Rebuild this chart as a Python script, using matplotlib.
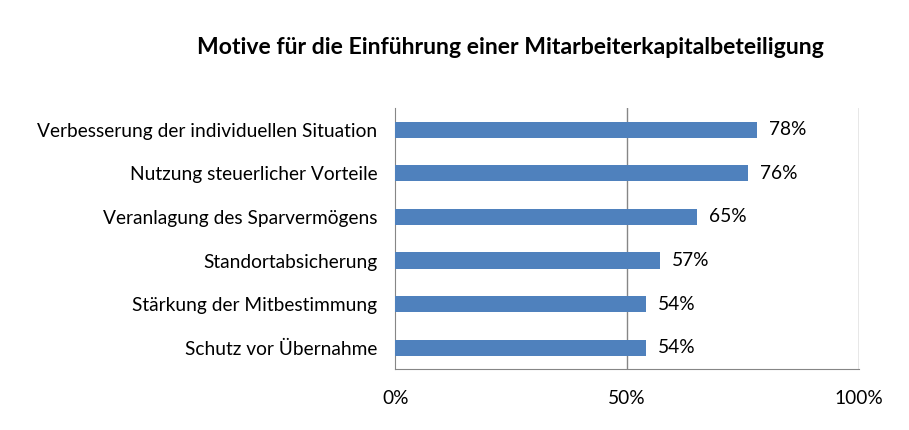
import matplotlib
matplotlib.use("Agg")
import matplotlib.pyplot as plt

# Chart data
categories = [
    "Verbesserung der individuellen Situation",
    "Nutzung steuerlicher Vorteile",
    "Veranlagung des Sparvermögens",
    "Standortabsicherung",
    "Stärkung der Mitbestimmung",
    "Schutz vor Übernahme",
]
values = [78, 76, 65, 57, 54, 54]
x_ticks = [0, 50, 100]
x_tick_labels = ["0%", "50%", "100%"]
title = "Motive für die Einführung einer Mitarbeiterkapitalbeteiligung"

plt.rcParams['font.family'] = ['Lato', 'DejaVu Sans']

fig = plt.figure(figsize=(9.09, 4.30), dpi=100)
ax = fig.add_axes([0.435, 0.1407, 0.51, 0.6083])

bar_color = '#4F81BD'
grid_color = '#868686'

ypos = list(range(len(categories)))
ax.barh(ypos, values, height=0.37, color=bar_color, zorder=3)
ax.set_ylim(len(categories) - 0.5, -0.5)
ax.set_xlim(0, 100)

# value labels
for y, v in zip(ypos, values):
    ax.text(v + 2.6, y, f"{v}%", va='center', ha='left', fontsize=13.8, color='black')

ax.set_yticks(ypos)
ax.set_yticklabels(categories, fontsize=13.8)
ax.set_xticks(x_ticks)
ax.set_xticklabels(x_tick_labels, fontsize=13.8)
ax.tick_params(axis='both', length=0)
ax.tick_params(axis='y', pad=13)
ax.tick_params(axis='x', pad=15)

# vertical gridlines
for xv in x_ticks[1:]:
    ax.axvline(xv, color=grid_color, linewidth=1, zorder=1)

for side in ['top', 'right']:
    ax.spines[side].set_visible(False)
ax.spines['left'].set_color(grid_color)
ax.spines['bottom'].set_color(grid_color)

fig.text(0.562, 0.89, title, ha='center', va='center', fontsize=16.6, fontweight='bold')

fig.savefig("out.png", dpi=100)
